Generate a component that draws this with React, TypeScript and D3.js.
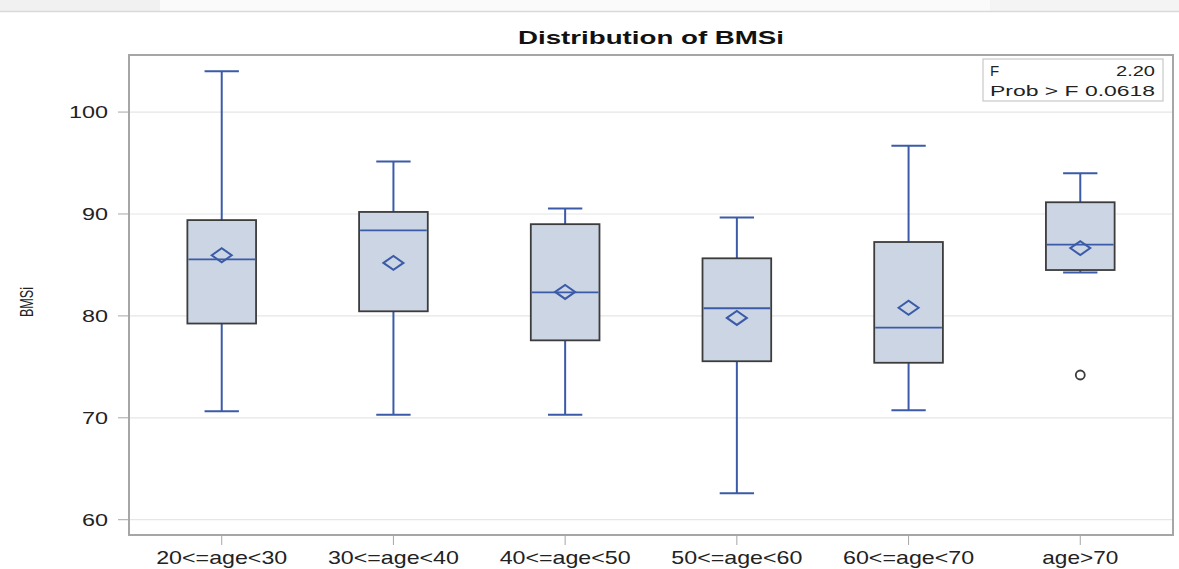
import React from 'react';
import * as d3 from 'd3';

// age groups and box statistics
const groups = ['20<=age<30', '30<=age<40', '40<=age<50', '50<=age<60', '60<=age<70', 'age>70'];
const whiskerLow = [70.65, 70.3, 70.3, 62.6, 70.75, 84.25];
const q1 = [79.25, 80.45, 77.6, 75.55, 75.4, 84.5];
const median = [85.55, 88.4, 82.3, 80.75, 78.85, 87.0];
const q3 = [89.4, 90.2, 89.0, 85.65, 87.25, 91.15];
const whiskerHigh = [104.0, 95.15, 90.55, 89.65, 96.7, 94.0];
const mean = [85.95, 85.2, 82.35, 79.8, 80.8, 86.65];
const outliers = [[], [], [], [], [], [74.2]];
const yTicks = [60, 70, 80, 90, 100];

const W = 1179, H = 569;
const left = 129, right = 1173, top = 55, bottom = 535;

const blue = '#3b5ba8';
const boxFill = '#cbd5e4';
const boxEdge = '#3c3c3c';
const frame = '#a6a6a6';
const narrow = "'Liberation Sans Narrow', 'Liberation Sans', Arial, sans-serif";

export default function App() {
  const x = d3.scalePoint<string>().domain(groups).range([left, right]).padding(0.54);
  const y = d3.scaleLinear().domain([58.5, 105.6]).range([bottom, top]);
  const boxW = x.step() * 0.4;
  const capW = boxW / 2;

  return (
    <svg width={W} height={H} style={{ position: 'absolute', left: 0, top: 0, background: '#fff' }}
      fontFamily="'Liberation Sans', Arial, sans-serif">
      {/* faint page header strip */}
      <rect x={0} y={0} width={W} height={11} fill="#fafafa" />
      <rect x={0} y={0} width={160} height={11} fill="#f1f1f1" />
      <rect x={990} y={0} width={189} height={11} fill="#f4f4f4" />
      <line x1={0} x2={W} y1={11.5} y2={11.5} stroke="#d9d9d9" strokeWidth={1.5} />

      <text x={(left + right) / 2} y={44} textAnchor="middle" fontWeight="bold" fontSize={19}
        textLength={266} lengthAdjust="spacingAndGlyphs" fill="#111">Distribution of BMSi</text>

      {/* grid */}
      {yTicks.map(t => (
        <line key={'g' + t} x1={left} x2={right} y1={y(t)} y2={y(t)} stroke="#e6e6e6" strokeWidth={1.2} />
      ))}

      {/* y axis */}
      {yTicks.map(t => (
        <g key={'y' + t}>
          <line x1={left - 11} x2={left} y1={y(t)} y2={y(t)} stroke={frame} />
          <text x={108} y={y(t) + 6} textAnchor="end" fontSize={16} fill="#222"
            textLength={t >= 100 ? 39 : 26} lengthAdjust="spacingAndGlyphs">{t}</text>
        </g>
      ))}
      <text transform={`translate(33,${302}) rotate(-90)`} textAnchor="middle" fontSize={19}
        fill="#222" textLength={30} lengthAdjust="spacingAndGlyphs" fontFamily={narrow}>BMSi</text>

      {/* x axis */}
      {groups.map(g => (
        <g key={'x' + g}>
          <line x1={x(g)} x2={x(g)} y1={bottom} y2={bottom + 10} stroke={frame} />
          <text x={x(g)} y={bottom + 29} textAnchor="middle" fontSize={19} fill="#222"
            textLength={g === 'age>70' ? 76 : 131} lengthAdjust="spacingAndGlyphs"
            fontFamily={narrow}>{g}</text>
        </g>
      ))}

      {/* boxes */}
      {groups.map((g, i) => {
        const cx = x(g) as number;
        return (
          <g key={'b' + g}>
            <line x1={cx} x2={cx} y1={y(whiskerHigh[i])} y2={y(q3[i])} stroke={blue} strokeWidth={2} />
            <line x1={cx} x2={cx} y1={y(q1[i])} y2={y(whiskerLow[i])} stroke={blue} strokeWidth={2} />
            <line x1={cx - capW / 2} x2={cx + capW / 2} y1={y(whiskerHigh[i])} y2={y(whiskerHigh[i])} stroke={blue} strokeWidth={2} />
            <line x1={cx - capW / 2} x2={cx + capW / 2} y1={y(whiskerLow[i])} y2={y(whiskerLow[i])} stroke={blue} strokeWidth={2} />
            <rect x={cx - boxW / 2} y={y(q3[i])} width={boxW} height={y(q1[i]) - y(q3[i])}
              fill={boxFill} stroke={boxEdge} strokeWidth={1.8} />
            <line x1={cx - boxW / 2 + 1} x2={cx + boxW / 2 - 1} y1={y(median[i])} y2={y(median[i])} stroke={blue} strokeWidth={1.8} />
            <path d={`M${cx - 10},${y(mean[i])}L${cx},${y(mean[i]) - 7}L${cx + 10},${y(mean[i])}L${cx},${y(mean[i]) + 7}Z`}
              fill="none" stroke={blue} strokeWidth={2} />
            {outliers[i].map((o, k) => (
              <circle key={k} cx={cx} cy={y(o)} r={4.5} fill="none" stroke={boxEdge} strokeWidth={1.8} />
            ))}
          </g>
        );
      })}

      {/* frame */}
      <rect x={left} y={top} width={right - left} height={bottom - top} fill="none" stroke={frame} strokeWidth={2} />

      {/* stats inset */}
      <rect x={983} y={59} width={180} height={42} fill="#fff" stroke="#c8c8c8" strokeWidth={1.2} />
      <text x={990} y={76} fontSize={15} fill="#222">F</text>
      <text x={1155} y={76} fontSize={15} fill="#222" textAnchor="end" textLength={39} lengthAdjust="spacingAndGlyphs">2.20</text>
      <text x={990} y={96} fontSize={15} fill="#222" textLength={165} lengthAdjust="spacingAndGlyphs">Prob &gt; F  0.0618</text>
    </svg>
  );
}
